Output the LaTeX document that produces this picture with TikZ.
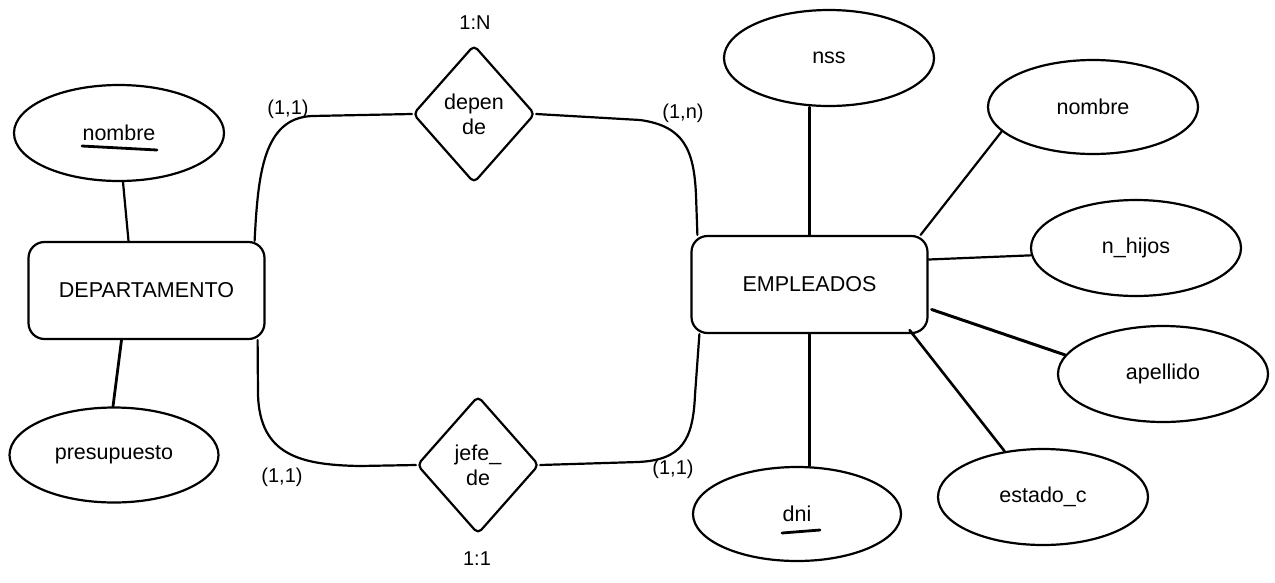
\documentclass[tikz,border=0pt]{standalone}
\usepackage{fontspec}
\setmainfont{Liberation Sans}
\usetikzlibrary{shapes.geometric}
\tikzset{
  base/.style={line width=2.2pt, line join=round, line cap=round},
  txt/.style={font=\fontsize{21.5pt}{25pt}\selectfont, align=center},
  attr/.style={base, txt, draw, ellipse, minimum width=210pt, minimum height=96pt, inner sep=0pt},
  entity/.style={base, txt, draw, rectangle, rounded corners=16pt, minimum width=236pt, minimum height=97pt, inner sep=0pt},
  rel/.style={base, txt, draw, diamond, rounded corners=5pt, minimum width=122pt, minimum height=138pt, inner sep=0pt},
  card/.style={font=\fontsize{20pt}{24pt}\selectfont, inner sep=0pt},
  link/.style={base},
  curvelink/.style={base},
  uline/.style={line width=2.8pt, line cap=round}
}
\begin{document}
\begin{tikzpicture}[x=1pt, y=-1pt]
\useasboundingbox (0,0) rectangle (1275,582);
\fill[white] (0,0) rectangle (1275,582);

% entities
\node[entity] (dept) at (146.5,290.5) {DEPARTAMENTO};
\node[entity] (emp) at (809.5,284.5) {EMPLEADOS};

% relationships
\node[rel] (dep) at (474,114) {depen\\de};
\node[rel] (jefe) at (478,465) {jefe\_\\de};

% attributes of DEPARTAMENTO
\node[attr] (n1) at (119,133) {nombre};
\node[attr, minimum width=209pt, minimum height=95pt] (pre) at (114,455) {presupuesto};

% attributes of EMPLEADOS
\node[attr] (nss) at (829,58) {nss};
\node[attr, minimum height=94pt] (nom2) at (1093,107) {nombre};
\node[attr] (nh) at (1136,248) {n\_hijos};
\node[attr] (ap) at (1163,374) {apellido};
\node[attr] (es) at (1043,497) {estado\_c};
\node[attr, minimum width=208pt, minimum height=94pt] (dni) at (797,514) {dni};

% underlines of keys
\draw[uline] ([shift={(-37,13)}]n1.center) -- ([shift={(38,17)}]n1.center);
\draw[uline] ([shift={(-15,19)}]dni.center) -- ([shift={(23,16)}]dni.center);

% cardinality labels
\node[card] (cN) at (475,23) {1:N};
\node[card] (c11) at (477,559) {1:1};
\node[card] (tl) at (288,109) {(1,1)};
\node[card] (tr) at (683,113) {(1,n)};
\node[card] (bl) at (282,477) {(1,1)};
\node[card] (br) at (673,469) {(1,1)};

% attribute links
\draw[link] ([xshift=4pt]n1.south) -- ([xshift=-18pt]dept.north);
\draw[link, line width=2.8pt] ([xshift=-25pt]dept.south) -- ([xshift=-1pt]pre.north);
\draw[link] (emp.north |- nss.south) -- (emp.north);
\draw[link] (nom2.195) -- ([xshift=-8pt]emp.north east);
\draw[link] (nh.184) -- ([yshift=25pt]emp.east);
\draw[link, line width=3pt] ([xshift=3pt,yshift=-25pt]emp.east) -- (ap.169);
\draw[link, line width=2.6pt] ([xshift=-19pt,yshift=4pt]emp.south east) -- (es.130);
\draw[link] (emp.south) -- (emp.south |- dni.north);

% relationship links
\draw[curvelink] ([xshift=-11pt]dept.north east)
  .. controls (258,175) and (263,118) .. (312,116) -- (dep.west);
\draw[curvelink] (dep.east) -- (640,120)
  .. controls (684,126) and (694,150) .. (696,195) -- ([xshift=7pt]emp.north west);
\draw[curvelink] ([xshift=-8pt]dept.south east) -- (258,395)
  .. controls (260,455) and (300,465) .. (360,466) -- (jefe.west);
\draw[curvelink] (jefe.east) -- (638,462)
  .. controls (682,460) and (693,440) .. (695,395) -- ([xshift=9pt]emp.south west);
\end{tikzpicture}
\end{document}
